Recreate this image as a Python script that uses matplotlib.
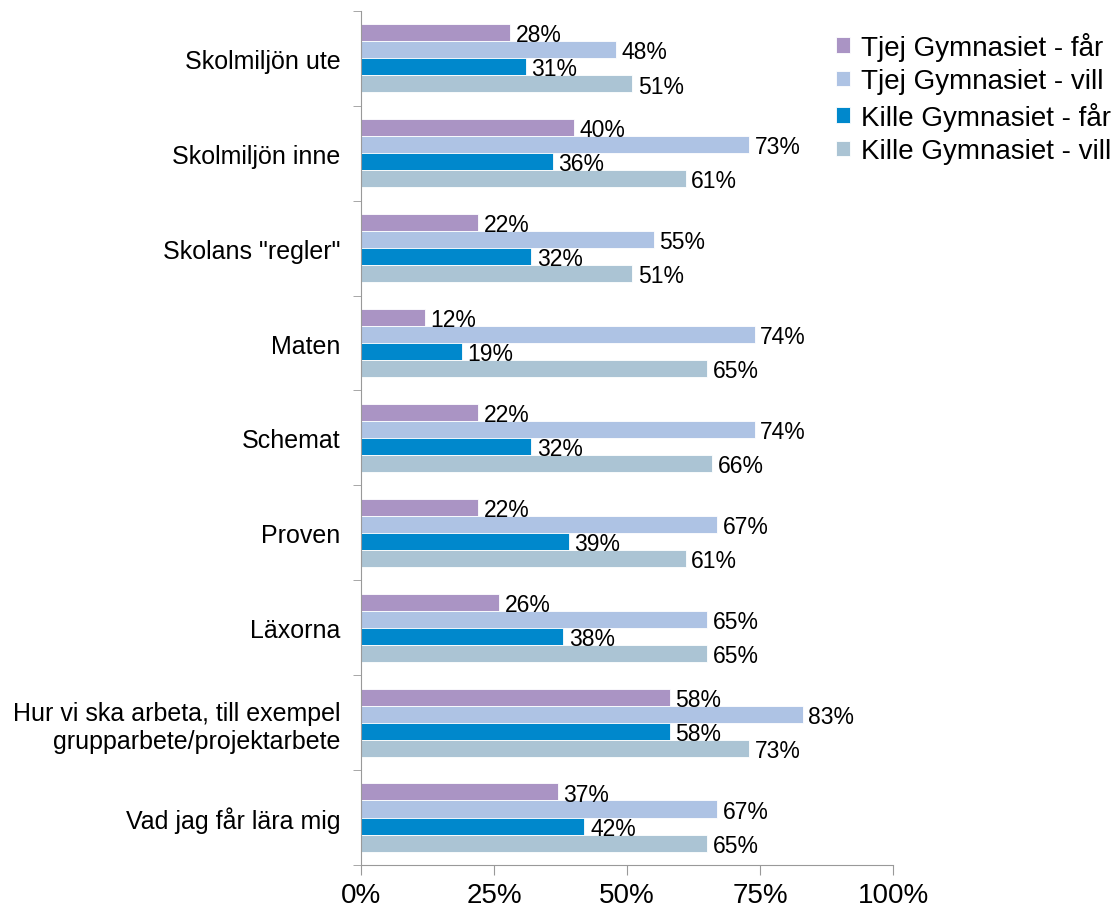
import matplotlib
matplotlib.use("Agg")
import matplotlib.pyplot as plt
import numpy as np

plt.rcParams["font.family"] = ["Liberation Sans", "DejaVu Sans"]

categories = [
    "Skolmiljön ute",
    "Skolmiljön inne",
    'Skolans "regler"',
    "Maten",
    "Schemat",
    "Proven",
    "Läxorna",
    "Hur vi ska arbeta, till exempel\ngrupparbete/projektarbete",
    "Vad jag får lära mig",
]
series_names = [
    "Tjej Gymnasiet - får",
    "Tjej Gymnasiet - vill",
    "Kille Gymnasiet - får",
    "Kille Gymnasiet - vill",
]
tjej_far = [28, 40, 22, 12, 22, 22, 26, 58, 37]
tjej_vill = [48, 73, 55, 74, 74, 67, 65, 83, 67]
kille_far = [31, 36, 32, 19, 32, 39, 38, 58, 42]
kille_vill = [51, 61, 51, 65, 66, 61, 65, 73, 65]
colours = ["#AA94C4", "#AEC3E4", "#0088CC", "#ABC4D4"]

series = [tjej_far, tjej_vill, kille_far, kille_vill]

fig = plt.figure(figsize=(11.16, 9.12), dpi=100)
ax = fig.add_axes([0.3235, 0.0504, 0.4767, 0.9366])

n = len(categories)
y = np.arange(n)
h = 0.18
for i, (vals, col, name) in enumerate(zip(series, colours, series_names)):
    pos = y + (i - 1.5) * h
    ax.barh(pos, vals, height=h, color=col, edgecolor="white", linewidth=0.6, label=name)
    for p, v in zip(pos, vals):
        ax.annotate(f"{v}%", (v, p), xytext=(4, -1.5), textcoords="offset points",
                    va="center", ha="left", fontsize=16.5)

ax.set_ylim(n - 0.5, -0.5)
ax.set_xlim(0, 100)
ax.set_yticks(y)
ax.set_yticklabels(categories, fontsize=18)
ax.tick_params(axis="y", length=0, pad=15)
ax.set_yticks(np.arange(-0.5, n, 1), minor=True)
ax.tick_params(axis="y", which="minor", length=6, color="#999999", direction="out")

ax.set_xticks([0, 25, 50, 75, 100])
ax.set_xticklabels(["0%", "25%", "50%", "75%", "100%"], fontsize=20)
ax.tick_params(axis="x", length=7, color="#999999", pad=5)

for s in ["top", "right"]:
    ax.spines[s].set_visible(False)
for s in ["left", "bottom"]:
    ax.spines[s].set_color("#999999")

handles, labels = ax.get_legend_handles_labels()
fig.legend(handles, labels, loc="upper left", bbox_to_anchor=(0.749, 0.964),
           frameon=False, fontsize=20, handlelength=0.5, handleheight=0.5,
           handletextpad=0.4, labelspacing=0.27, borderpad=0, borderaxespad=0)

fig.savefig("out.png", dpi=100)
